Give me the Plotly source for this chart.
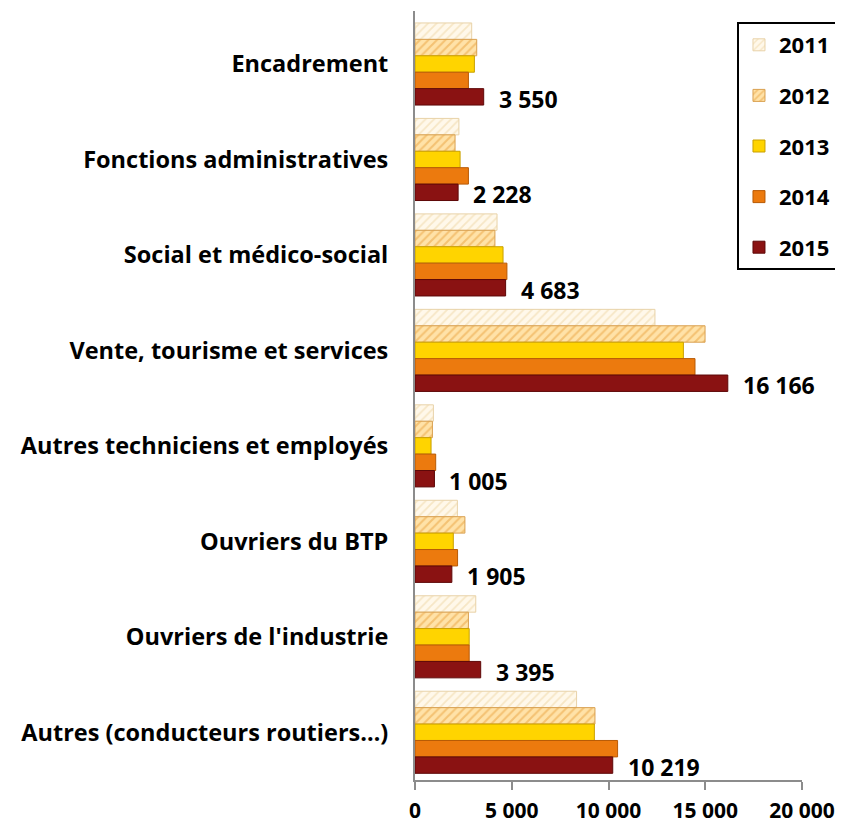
import plotly.graph_objects as go

categories = [
    "Encadrement",
    "Fonctions administratives",
    "Social et médico-social",
    "Vente, tourisme et services",
    "Autres techniciens et employés",
    "Ouvriers du BTP",
    "Ouvriers de l'industrie",
    "Autres (conducteurs routiers…)",
]
years = ["2011", "2012", "2013", "2014", "2015"]
v2011 = [2930, 2270, 4240, 12400, 950, 2190, 3140, 8350]
v2012 = [3190, 2070, 4130, 14990, 900, 2580, 2760, 9300]
v2013 = [3070, 2330, 4550, 13870, 830, 1980, 2800, 9270]
v2014 = [2760, 2760, 4750, 14470, 1070, 2200, 2800, 10470]
v2015 = [3550, 2228, 4683, 16166, 1005, 1905, 3395, 10219]
series = [v2011, v2012, v2013, v2014, v2015]
x_ticks = [0, 5000, 10000, 15000, 20000]

FONT = "Open Sans"

styles = [
    dict(color="#FFF3DC", line=dict(color="#E8D2A8", width=1),
         pattern=dict(shape="/", fgcolor="#EED3A0", bgcolor="#FFF8EA", size=6, solidity=0.3)),
    dict(color="#FFD48A", line=dict(color="#D9A050", width=1),
         pattern=dict(shape="/", fgcolor="#E9A23E", bgcolor="#FFE2A8", size=6, solidity=0.35)),
    dict(color="#FFD400", line=dict(color="#C9A000", width=1)),
    dict(color="#EC7A0E", line=dict(color="#B85A05", width=1)),
    dict(color="#8A1212", line=dict(color="#5E0808", width=1)),
]

fig = go.Figure()
for yr, vals, st in zip(years, series, styles):
    fig.add_trace(go.Bar(
        y=categories, x=vals, name=yr, orientation="h",
        marker=st, legendgroup=yr,
    ))

def fmt(v):
    return f"{v:,}".replace(",", " ")

for cat, v in zip(categories, v2015):
    fig.add_annotation(
        x=v, y=cat, text=f"<b>{fmt(v)}</b>", showarrow=False,
        xanchor="left", yanchor="middle", xshift=13, yshift=-35,
        font=dict(family=FONT, size=23, color="#000"),
    )

# page body adds an 8px offset; figure is sized/margined to compensate
fig.update_layout(
    width=835, height=820,
    margin=dict(l=407, r=41, t=3, b=48),
    paper_bgcolor="white", plot_bgcolor="white",
    barmode="group", bargap=0.14, bargroupgap=0.0,
    separators=", ",
    font=dict(family=FONT, size=22, color="#000"),
    legend=dict(
        x=0.832, y=1.0 - 11 / 769, xanchor="left", yanchor="top",
        bordercolor="#000", borderwidth=2, bgcolor="white",
        font=dict(family=FONT, size=22, color="#000", weight="bold"),
        tracegroupgap=19, itemwidth=30,
    ),
    showlegend=True,
)
fig.update_yaxes(
    autorange="reversed", showline=True, linecolor="#8c8c8c", linewidth=2,
    ticks="", tickfont=dict(family=FONT, size=23.5, weight="bold"),
    ticklabelstandoff=20, showgrid=False, automargin=False,
)
fig.update_xaxes(
    range=[0, 20000], tickvals=x_ticks, tickformat=",d",
    showline=True, linecolor="#8c8c8c", linewidth=2,
    ticks="outside", ticklen=8, tickcolor="#8c8c8c", tickwidth=2,
    tickfont=dict(family=FONT, size=21, weight="bold"),
    ticklabelstandoff=3,
    showgrid=False, zeroline=False, automargin=False,
)

fig.write_html("out.html")
